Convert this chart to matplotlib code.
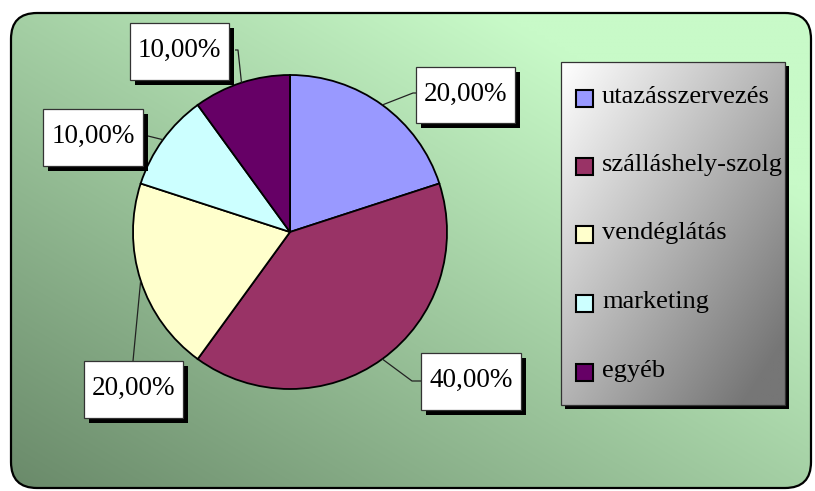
import numpy as np
import matplotlib
matplotlib.use("Agg")
import matplotlib.pyplot as plt
from matplotlib.patches import FancyBboxPatch, Rectangle

categories = ["utazásszervezés", "szálláshely-szolg", "vendéglátás", "marketing", "egyéb"]
values = [20.0, 40.0, 20.0, 10.0, 10.0]
colors = ["#9999FF", "#993366", "#FFFFCC", "#CCFFFF", "#660066"]
value_labels = ["20,00%", "40,00%", "20,00%", "10,00%", "10,00%"]

W, H = 815, 491
fig = plt.figure(figsize=(W / 100, H / 100), dpi=100)
ax = fig.add_axes([0, 0, 1, 1])
ax.set_xlim(0, W)
ax.set_ylim(0, H)
ax.set_aspect("equal")
ax.axis("off")

FONT = "Liberation Serif"

def Y(y):
    return H - y

# background gradient clipped to rounded rectangle
frame = FancyBboxPatch((11, Y(488)), 800, 475, boxstyle="round,pad=0,rounding_size=26",
                       fc="none", ec="black", lw=1.6, zorder=3)
ax.add_patch(frame)
nx, ny = 200, 120
gx, gy = np.meshgrid(np.linspace(0, 1, nx), np.linspace(0, 1, ny))
t = np.clip(0.62 * gx + 0.62 * gy, 0, 1)  # 0 bottom-left -> 1 top-right
c0 = np.array([106, 138, 106]) / 255
c1 = np.array([200, 250, 200]) / 255
img = c0[None, None, :] * (1 - t[..., None]) + c1[None, None, :] * t[..., None]
im = ax.imshow(img, extent=(11, 811, Y(488), Y(13)), origin="lower", zorder=1,
               interpolation="bilinear")
clip = FancyBboxPatch((11, Y(488)), 800, 475, boxstyle="round,pad=0,rounding_size=26",
                      fc="none", ec="none", transform=ax.transData)
ax.add_patch(clip)
im.set_clip_path(clip)

# pie
cx, cy, R = 290, Y(232), 157
wedges, _ = ax.pie(values, colors=colors, startangle=90, counterclock=False,
                   center=(cx, cy), radius=R, frame=True,
                   wedgeprops=dict(edgecolor="black", linewidth=1.3))
for w in wedges:
    w.set_zorder(4)
ax.set_xlim(0, W)
ax.set_ylim(0, H)
ax.axis("off")

# label boxes (layout): (left, top, right, bottom) in pixel coords from top
boxes = [
    (416, 67, 515, 123),
    (421, 353, 521, 410),
    (84, 361, 183, 418),
    (43, 109, 143, 166),
    (130, 23, 229, 80),
]
# leader line bend points
bends = [
    [(413, 93), (416, 93)],
    [(412, 381), (421, 381)],
    [(133, 361)],
    [(148, 136), (143, 136)],
    [(238, 50), (235, 50)],
]

total = sum(values)
ang = 90.0
for i, v in enumerate(values):
    theta1 = ang - 360 * v / total
    mid = np.deg2rad((ang + theta1) / 2)
    ang = theta1
    ex, ey = cx + R * np.cos(mid), cy + R * np.sin(mid)
    pts = [(ex, ey)] + [(bx, Y(by)) for bx, by in bends[i]]
    xs, ys = zip(*pts)
    ax.plot(xs, ys, color="#222222", lw=0.9, zorder=5, solid_capstyle="butt")

    l, tp, r, b = boxes[i]
    ax.add_patch(Rectangle((l + 5, Y(b) - 5), r - l, b - tp, fc="black", ec="none", zorder=6))
    ax.add_patch(Rectangle((l, Y(b)), r - l, b - tp, fc="white", ec="#333333", lw=0.9, zorder=7))
    ax.text((l + r) / 2, Y((tp + b) / 2) + 1, value_labels[i], ha="center", va="center",
            fontsize=19.5, family=FONT, color="black", zorder=8)

# legend
L, T, Rr, B = 561, 62, 785, 405
ax.add_patch(Rectangle((L + 4, Y(B) - 4), Rr - L, B - T, fc="black", ec="none", zorder=6))
lx, ly = np.meshgrid(np.linspace(0, 1, 100), np.linspace(0, 1, 150))
lt = np.clip(0.55 * lx + 0.55 * (1 - ly), 0, 1)
g0 = np.array([255, 255, 255]) / 255
g1 = np.array([118, 118, 118]) / 255
limg = g0[None, None, :] * (1 - lt[..., None]) + g1[None, None, :] * lt[..., None]
ax.imshow(limg, extent=(L, Rr, Y(B), Y(T)), origin="lower", zorder=7, interpolation="bilinear")
ax.add_patch(Rectangle((L, Y(B)), Rr - L, B - T, fc="none", ec="#333333", lw=0.9, zorder=8))
ycent = [98, 166, 234, 303, 372]
for i, cat in enumerate(categories):
    yc = ycent[i]
    ax.add_patch(Rectangle((576, Y(yc) - 8.5), 17, 17, fc=colors[i], ec="black", lw=1.5, zorder=9))
    ax.text(602, Y(yc) + 1, cat, ha="left", va="center", fontsize=19, family=FONT,
            color="black", zorder=9)

ax.set_xlim(0, W)
ax.set_ylim(0, H)
fig.savefig("out.png", dpi=100, facecolor="white")
